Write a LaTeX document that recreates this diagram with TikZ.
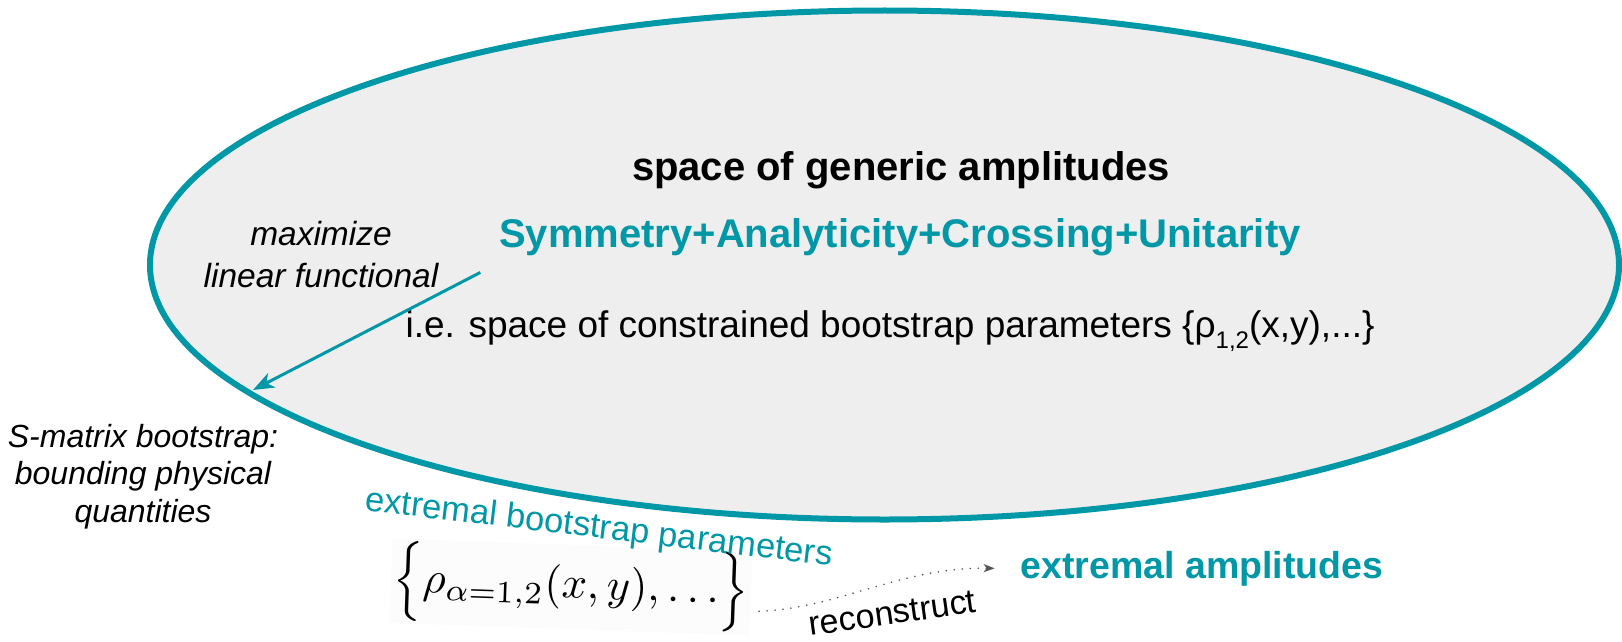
\documentclass[tikz,border=0pt]{standalone}
\usepackage{fontspec}
\setmainfont{Liberation Sans}
\usetikzlibrary{shapes.geometric,arrows.meta,calc}
\definecolor{tealc}{HTML}{0097A7}
\definecolor{fillg}{HTML}{EEEEEE}
\definecolor{dotg}{HTML}{555555}
\begin{document}
\begin{tikzpicture}[x=1pt,y=-1pt,
  lbl/.style={inner sep=0pt, outer sep=0pt, anchor=base},
  boldbig/.style={lbl, font=\fontsize{40}{48}\selectfont\bfseries},
  plain/.style={lbl, font=\fontsize{37}{44}\selectfont},
  ital/.style={lbl, font=\fontsize{33.5}{40}\selectfont\itshape},
  tealarrow/.style={draw=tealc, line width=3pt, -{Stealth[length=21pt,width=16pt,inset=6pt]}},
  dotarrow/.style={draw=dotg, line width=1.8pt, line cap=round, dash pattern=on 0pt off 8pt, -{Stealth[length=11pt,width=8pt,inset=3pt,line cap=butt]}}
]
\useasboundingbox (0,0) rectangle (1622,642);
\fill[white] (0,0) rectangle (1622,642);

\node[ellipse, draw=tealc, fill=fillg, line width=6pt, minimum width=1469pt, minimum height=509pt, inner sep=0pt] (ell) at (884.5,265) {};

\node[boldbig] (title) at (901,180) {space of generic amplitudes};
\node[boldbig, text=tealc] (sym) at (900,247) {Symmetry+Analyticity+Crossing+Unitarity};
\node[plain] (ie) at (890,337) {i.e. space of constrained bootstrap parameters \{ρ\raisebox{-0.3em}{\fontsize{24}{24}\selectfont 1,2}(x,y),...\}};

\node[ital] (max1) at (321,245) {maximize};
\node[ital] (max2) at (321,287) {linear functional};

\node[ital, font=\fontsize{32}{40}\selectfont\itshape] (sm1) at (143,447) {S-matrix bootstrap:};
\node[ital, font=\fontsize{32}{40}\selectfont\itshape] (sm2) at (143,484.5) {bounding physical};
\node[ital, font=\fontsize{32}{40}\selectfont\itshape] (sm3) at (143,522) {quantities};

\coordinate (arrEnd) at (253,390);
\draw[tealarrow] ($(sym.south west)+(-19,17)$) -- (arrEnd);

\node[inner sep=2pt, fill=black!1.2, rotate=-2] (form) at (571,587) {\scalebox{4.45}{$\Bigl\{\rho_{\alpha=1,2}(x,y),\ldots\Bigr\}$}};

\node[lbl, text=tealc, rotate=-6.8, font=\fontsize{34.5}{40}\selectfont] (ebp) at (598,538) {extremal bootstrap parameters};

\node[boldbig, text=tealc, font=\fontsize{37.5}{45}\selectfont\bfseries] (amp) at (1202,578) {extremal amplitudes};

\draw[dotarrow] ($(form.east)+(8,18)$) .. controls (840,608) and (900,567) .. ($(amp.west)+(-26,0)$);

\node[lbl, rotate=8, font=\fontsize{34}{40}\selectfont] (rec) at (894,624) {reconstruct};
\end{tikzpicture}
\end{document}
